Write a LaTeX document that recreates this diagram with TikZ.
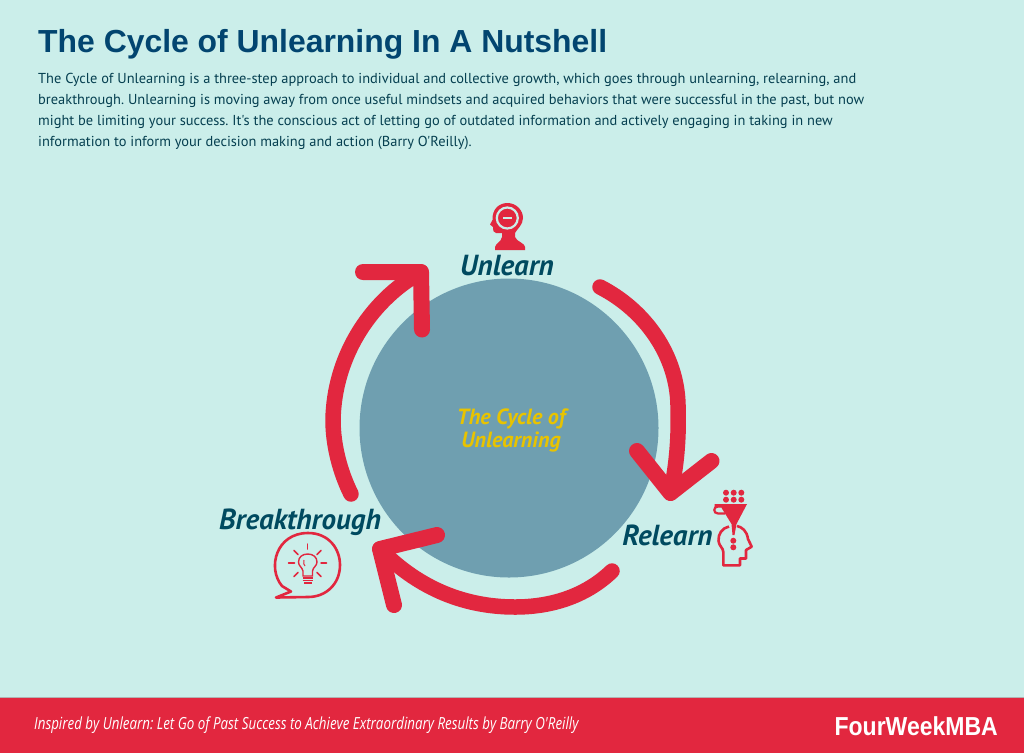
\documentclass[tikz,border=0pt]{standalone}
\usepackage{fontspec}
\setmainfont{PT Sans}
\frenchspacing
\newfontfamily\titlefont{Liberation Sans}
\newfontfamily\bodyfont{PT Sans}
\newfontfamily\labelfont{PT Sans}
\newfontfamily\footfont[FakeStretch=0.8]{Open Sans}
\newfontfamily\brandfont[FakeStretch=0.885]{Liberation Sans}
\definecolor{bgc}{HTML}{CBEEEA}
\definecolor{redc}{HTML}{E2273F}
\definecolor{discc}{HTML}{6F9FB0}
\definecolor{titlec}{HTML}{024570}
\definecolor{labelc}{HTML}{004A60}
\definecolor{bodyc}{HTML}{053F50}
\definecolor{goldc}{HTML}{E8C300}
\tikzset{
 x=1pt,y=-1pt,
 cyclearc/.style={draw=redc,line width=15.5pt,line cap=round,line join=round},
 cyclehead/.style={draw=redc,line width=16pt,line cap=round,line join=round},
 steplabel/.style={font=\labelfont\bfseries\itshape\fontsize{29}{32}\selectfont,text=labelc,inner sep=0pt},
 iconline/.style={draw=redc,line width=2.6pt,line join=round},
 thinline/.style={draw=redc,line width=1.5pt,line cap=round},
}
\begin{document}
\begin{tikzpicture}
\useasboundingbox (0,0) rectangle (1024,753);
\fill[bgc] (0,0) rectangle (1024,753);
% footer
\fill[redc] (0,697) rectangle (1024,753);
\draw[gray!60,line width=0.8pt] (0,697) -- (1024,697);
\node[anchor=west,inner sep=0pt,text=white,font=\footfont\itshape\fontsize{16.7}{18}\selectfont] (foot) at (34,725.5) {Inspired by Unlearn: Let Go of Past Success to Achieve Extraordinary Results by Barry O'Reilly};
\node[anchor=east,inner sep=0pt,text=white,font=\brandfont\bfseries\fontsize{26}{30}\selectfont] (brand) at (998,726.5) {FourWeekMBA};
% title
\node[anchor=base west,inner sep=0pt,text=titlec,font=\titlefont\bfseries\fontsize{31.9}{40}\selectfont] (title) at (38,52) {The Cycle of Unlearning In A Nutshell};
\node[anchor=north west,inner sep=0pt,align=left,text=bodyc,font=\bodyfont\fontsize{14.42}{21}\selectfont] (body) at (38,73.5) {The Cycle of Unlearning is a three-step approach to individual and collective growth, which goes through unlearning, relearning, and\\breakthrough. Unlearning is moving away from once useful mindsets and acquired behaviors that were successful in the past, but now\\might be limiting your success. It's the conscious act of letting go of outdated information and actively engaging in taking in new\\information to inform your decision making and action (Barry O'Reilly).};
% disc
\node[circle,fill=discc,minimum size=299pt,inner sep=0pt] (disc) at (509,428) {};
\node[align=center,inner sep=0pt,text=goldc,font=\labelfont\bfseries\itshape\fontsize{22}{22.5}\selectfont] (centre) at (511,430.5) {The Cycle of\\Unlearning};
% arcs
\coordinate (a1s) at (600,287); \coordinate (a1t) at (670.5,493);
\coordinate (a1l) at (637,451); \coordinate (a1r) at (711.5,461);
\draw[cyclearc] (a1s) .. controls (645,310) and (677,355) .. (678,405) .. controls (679,435) and (677,465) .. (a1t);
\draw[cyclehead] (a1l) -- (a1t) -- (a1r);
\coordinate (a2s) at (612,571); \coordinate (a2t) at (380,549);
\coordinate (a2l) at (437,535); \coordinate (a2r) at (394,605);
\draw[cyclearc] (a2s) .. controls (585,597) and (550,607) .. (515,607) .. controls (460,607) and (415,585) .. (a2t);
\draw[cyclehead] (a2l) -- (a2t) -- (a2r);
\coordinate (a3s) at (351,494); \coordinate (a3t) at (421,272);
\coordinate (a3l) at (363,272); \coordinate (a3r) at (422,329.5);
\draw[cyclearc] (a3s) .. controls (340,472) and (333,445) .. (333,420) .. controls (334,359) and (368,302) .. (a3t);
\draw[cyclehead] (a3l) -- (a3t) -- (a3r);
% labels
\node[steplabel] (unlearn) at (507,266) {Unlearn};
\node[steplabel] (relearn) at (667.5,535) {Relearn};
\node[steplabel] (breakthrough) at (300,522) {Breakthrough};
% unlearn icon
\fill[redc] (495,250) -- (495,247) .. controls (496,243) and (501,242) .. (502,237) -- (502,233) -- (496,233) .. controls (493,233) and (493,230) .. (493,227) -- (490,224.5) -- (492.5,220) .. controls (492,209) and (499,203) .. (507.5,203) .. controls (516,203) and (523,210) .. (523,218) .. controls (523,225) and (517,229) .. (515,233) -- (515,237) .. controls (517,242) and (525,243) .. (525,247) -- (525,250) -- cycle;
\draw[bgc,line width=2.2pt] (507.3,218) circle[radius=10.5];
\fill[bgc] (503,216.8) rectangle (512,219.4);
% relearn icon
\foreach \px in {726,733.7,741.3}\foreach \py in {492.7,499.7}{\fill[redc] (\px,\py) circle[radius=3];}
\fill[redc] (714.5,504) -- (747,504) -- (736.5,524) -- (734.5,535) -- (732.5,535) -- (731.5,524) -- (721,507) -- (714.5,507) -- cycle;
\draw[redc,line width=2.2pt] (721,506.5) -- (718,506.5) .. controls (713,506.5) and (713,513.5) .. (718,513.5) -- (725,513.5);
\fill[redc] (733.3,540.7) circle[radius=3];
\fill[redc] (733.3,547.3) circle[radius=3];
\draw[iconline] (729,526.5) .. controls (722,528) and (718,534) .. (718.5,541) .. controls (719,546) and (723.3,548) .. (723.3,552) -- (723.3,565.3) -- (740,565.3) -- (740,558.5) -- (746,558.5) -- (746,550) -- (751.7,546.7) -- (748,539) .. controls (747,531) and (742,527) .. (737,526);
% breakthrough icon
\draw[iconline] (282,586) .. controls (267,568) and (276,533) .. (308,533) .. controls (329,533) and (340,549) .. (340,565) .. controls (340,584) and (326,597) .. (308,597) -- (276,597.5) -- (291,591.5) -- (282,586) -- cycle;
\draw[thinline] (307.7,544) -- (307.7,549);
\draw[thinline] (294,550.5) -- (298,554.5);
\draw[thinline] (321,550.5) -- (317,554.5);
\draw[thinline] (288.5,563) -- (294.5,563);
\draw[thinline] (321,563) -- (326.5,563);
\draw[thinline] (298,572.5) -- (294,576.5);
\draw[thinline] (317,572.5) -- (321,576.5);
\draw[redc,line width=1.4pt] (303,576) -- (303,571) .. controls (302,567) and (298.5,566) .. (298.5,562) .. controls (298.5,557) and (302.5,554) .. (307.7,554) .. controls (313,554) and (317,557) .. (317,562) .. controls (317,566) and (313,567) .. (312.5,571) -- (312.5,576) -- cycle;
\draw[redc,line width=1pt] (304,560) .. controls (303,563) and (304,565) .. (305,566);
\draw[redc,line width=1.2pt] (302.5,578) -- (313,578) (302.5,580.5) -- (313,580.5) (304,583) -- (311.5,583);
\end{tikzpicture}
\end{document}
